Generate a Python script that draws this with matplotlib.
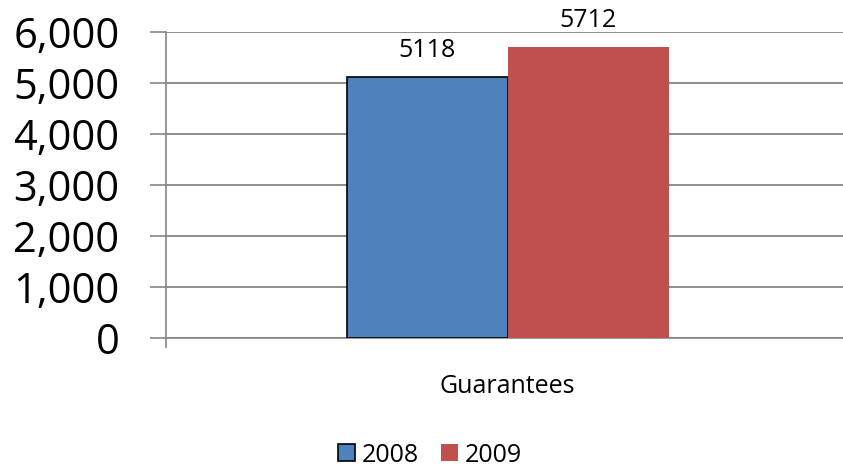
import matplotlib
matplotlib.use("Agg")
import matplotlib.pyplot as plt
from matplotlib.ticker import FuncFormatter, FixedLocator
from matplotlib.patches import Patch

categories = ["Guarantees"]
series_names = ["2008", "2009"]
values_2008 = [5118]
values_2009 = [5712]
y_ticks = [0, 1000, 2000, 3000, 4000, 5000, 6000]

plt.rcParams['font.family'] = ['Open Sans', 'DejaVu Sans']

W, H = 843, 468
fig = plt.figure(figsize=(W / 100, H / 100), dpi=100)
ax = fig.add_axes([166 / W, (H - 337.7) / H, 683 / W, (337.7 - 32) / H])

grid_c = "#868686"
bw = 161 / 683
x0 = 0
b1 = ax.bar([x0 - bw / 2], values_2008, width=bw, color="#4F81BD", edgecolor="black", linewidth=1.2, zorder=3)
b2 = ax.bar([x0 + bw / 2], values_2009, width=bw, color="#C0504D", linewidth=0, zorder=3)

for bars, vals in ((b1, values_2008), (b2, values_2009)):
    for r, v in zip(bars, vals):
        ax.annotate(str(v), (r.get_x() + r.get_width() / 2, v), xytext=(0, 14), textcoords="offset points",
                    ha="center", va="baseline", fontsize=18)

ax.set_xlim(-0.5, 0.5)
ax.set_ylim(0, 6000)
ax.yaxis.set_major_locator(FixedLocator(y_ticks))
ax.yaxis.set_major_formatter(FuncFormatter(lambda v, p: f"{int(v):,}"))
ax.tick_params(axis="y", labelsize=30, length=11.5, color=grid_c, width=1.2, pad=22)
ax.grid(axis="y", color=grid_c, linewidth=1.3, zorder=0)
ax.set_axisbelow(True)

ax.set_xticks([x0])
ax.set_xticklabels(categories, fontsize=18)
ax.tick_params(axis="x", length=0, pad=26)
ax.set_xticks([-0.5], minor=True)
ax.tick_params(axis="x", which="minor", length=7, color=grid_c, width=1.2)

for s in ("top", "right"):
    ax.spines[s].set_visible(False)
for s in ("left", "bottom"):
    ax.spines[s].set_color(grid_c)
    ax.spines[s].set_linewidth(1.2)

handles = [Patch(facecolor="#4F81BD", edgecolor="black", linewidth=1.2, label=series_names[0]),
           Patch(facecolor="#C0504D", edgecolor="none", label=series_names[1])]
fig.legend(handles=handles, loc="center", bbox_to_anchor=(430 / W, 1 - 455 / H), ncol=2, frameon=False,
           fontsize=18, handlelength=0.68, handleheight=0.68, handletextpad=0.3, columnspacing=0.85,
           borderpad=0, borderaxespad=0)

fig.savefig("out.png", dpi=100)
